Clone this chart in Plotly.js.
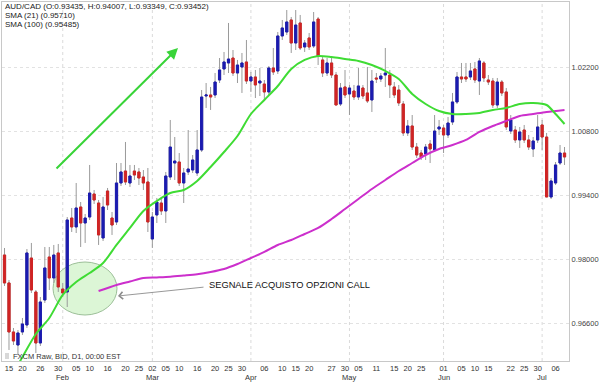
<!DOCTYPE html>
<html>
<head>
<meta charset="utf-8">
<script src="https://cdn.plot.ly/plotly-3.0.1.min.js"></script>
<style>html,body{margin:0;padding:0;background:#fff;}#chart{width:600px;height:382px;}</style>
</head>
<body>
<div id="chart"></div>
<script>
// ---- data (AUD/CAD daily, 14 Jan - 8 Jul 2015) ----
const open = [
0.98094,0.97482,0.96410,0.96125,0.96410,0.96563,0.98028,0.97285,0.96169,0.97110,
0.98050,0.97591,0.98138,0.97350,0.97285,0.98903,0.98707,0.99144,0.98794,0.98925,
0.99428,0.99231,0.98466,0.99494,0.98903,0.98816,0.99669,0.99931,0.99669,0.99931,
0.99910,0.99800,0.99691,0.98444,0.98969,0.99231,0.99057,0.99800,1.00106,1.00128,
0.99669,0.99910,0.99953,0.99888,1.00391,1.01572,1.01594,1.01594,1.01922,1.02163,
1.02294,1.02403,1.02075,1.02206,1.02316,1.01900,1.01988,1.01856,1.01834,1.01660,
1.02185,1.02119,1.02885,1.02972,1.03235,1.02731,1.03169,1.02644,1.02841,1.02666,
1.03256,1.02360,1.02075,1.02294,1.02031,1.01397,1.01769,1.01616,1.01681,1.01550,
1.01747,1.01638,1.01485,1.01966,1.01944,1.02031,1.02031,1.01769,1.01703,1.01397,
1.00763,1.00916,1.00456,1.00325,1.00303,1.00522,1.00391,1.00850,1.00872,1.00719,
1.01003,1.01441,1.01988,1.01988,1.01988,1.02163,1.01900,1.02294,1.01922,1.01900,
1.01375,1.01878,1.01660,1.00806,1.00828,1.00610,1.00828,1.00610,1.00413,1.00610,
1.00938,1.00675,0.99363,0.99669,1.00106,1.00325];
const high = [
0.98247,0.97547,0.96497,0.96453,0.96716,0.98225,0.98357,0.97328,0.97175,0.98269,
0.98269,0.98313,0.98335,0.97482,0.98925,0.99122,0.99669,0.99253,0.98991,1.00063,
0.99516,0.99297,0.99363,0.99560,0.99035,1.00106,1.00106,1.00566,1.00063,1.00063,
0.99997,0.99953,0.99997,0.99035,0.99341,0.99341,0.99910,1.01047,1.00675,1.00325,
0.99997,1.00828,1.00281,1.00828,1.01703,1.01856,1.01769,1.02075,1.02403,1.02535,
1.03169,1.02578,1.02360,1.02513,1.02797,1.02097,1.02141,1.02185,1.01922,1.02228,
1.02622,1.02972,1.03235,1.03453,1.03300,1.03453,1.03344,1.02797,1.02950,1.03409,
1.03300,1.02425,1.02403,1.02403,1.02097,1.01856,1.02141,1.01813,1.01813,1.02185,
1.01813,1.02206,1.02141,1.02075,1.02075,1.02622,1.02141,1.01878,1.01813,1.01463,
1.01047,1.01156,1.00544,1.00391,1.00522,1.00610,1.01156,1.01047,1.00938,1.01113,
1.01638,1.02097,1.02294,1.02294,1.02294,1.02316,1.02403,1.02338,1.02031,1.01966,
1.01966,1.01922,1.01747,1.01156,1.00916,1.00894,1.00938,1.00719,1.00675,1.01156,
1.01047,1.00763,0.99778,1.00128,1.00500,1.00456];
const low = [
0.97416,0.96016,0.96125,0.95906,0.96344,0.96497,0.97263,0.95950,0.96103,0.97044,
0.97328,0.97482,0.97285,0.97175,0.96956,0.98597,0.98575,0.98269,0.98357,0.98860,
0.99210,0.98313,0.98400,0.99078,0.98532,0.98750,0.99603,0.99625,0.99582,0.99735,
0.99625,0.99516,0.98597,0.98247,0.98794,0.98969,0.98794,0.99735,0.99735,0.99603,
0.99231,0.99844,0.99888,0.99822,1.00347,1.01310,1.01266,1.01528,1.01856,1.02031,
1.02075,1.02009,1.01856,1.01638,1.01834,1.01660,1.01528,1.01572,1.01485,1.01594,
1.02031,1.02053,1.02797,1.02906,1.02513,1.02578,1.02578,1.02535,1.02578,1.02622,
1.02250,1.01988,1.02009,1.01966,1.01375,1.01353,1.01528,1.01156,1.01485,1.01485,
1.01506,1.01419,1.01222,1.01856,1.01878,1.01769,1.01528,1.01528,1.01353,1.00697,
1.00697,1.00391,1.00216,1.00172,1.00172,1.00106,1.00347,1.00719,1.00325,1.00653,
1.00938,1.01397,1.01856,1.01878,1.01922,1.01856,1.01594,1.01878,1.01813,1.01310,
1.01310,1.01572,1.00828,1.00741,1.00544,1.00435,1.00544,1.00391,1.00238,1.00544,
1.00391,0.99363,0.99319,0.99625,1.00063,1.00063];
const close = [
0.97482,0.96410,0.96213,0.96388,0.96585,0.98138,0.97328,0.96169,0.97066,0.97810,
0.97591,0.98094,0.97394,0.97263,0.98860,0.98707,0.99122,0.98794,0.98903,0.99450,
0.99297,0.98532,0.99144,0.99188,0.98750,0.99669,0.99910,0.99691,0.99822,0.99844,
0.99778,0.99669,0.98816,0.98925,0.99253,0.99057,0.99822,1.00456,1.00150,0.99669,
0.99888,0.99975,1.00172,1.00391,1.01550,1.01594,1.01550,1.01878,1.02141,1.02316,
1.02381,1.02075,1.02250,1.02294,1.01900,1.01988,1.01813,1.01900,1.01660,1.02185,
1.02097,1.02885,1.03060,1.03191,1.02731,1.03125,1.02622,1.02731,1.02644,1.03191,
1.02447,1.02075,1.02294,1.02031,1.01375,1.01747,1.01594,1.01747,1.01550,1.01791,
1.01572,1.01463,1.01900,1.01944,1.02009,1.02075,1.01813,1.01594,1.01419,1.00763,
1.00916,1.00456,1.00281,1.00238,1.00456,1.00413,1.00806,1.00894,1.00719,1.00981,
1.01441,1.01988,1.01944,1.01944,1.02119,1.01922,1.02338,1.01966,1.01878,1.01375,
1.01878,1.01638,1.00894,1.01047,1.00610,1.00785,1.00610,1.00456,1.00588,1.00894,
1.00675,0.99363,0.99713,1.00063,1.00325,1.00238];

// SMA(21): index of trading day, value
const sma21Idx = [3,4,7,10,13,16,19,22,25,28,31,34,37,40,43,46,49,52,55,58,61,64,67,70,73,76,79,82,85,88,91,94,97,100,103,106,109,112,115,118,121,123,125];
const sma21Val = [0.95688,0.95863,0.96366,0.96716,0.97219,0.97503,0.97700,0.97919,0.98313,0.98685,0.99057,0.99275,0.99450,0.99516,0.99713,1.00019,1.00347,1.00697,1.01178,1.01485,1.01791,1.02163,1.02360,1.02447,1.02425,1.02381,1.02338,1.02250,1.02119,1.01944,1.01616,1.01397,1.01244,1.01178,1.01178,1.01200,1.01266,1.01310,1.01397,1.01419,1.01375,1.01178,1.00960];
// SMA(100)
const sma100Idx = [21,25,28,31,34,37,40,43,46,49,52,55,58,61,64,67,70,73,76,79,82,85,88,91,94,97,100,103,106,109,112,115,118,121,125];
const sma100Val = [0.97306,0.97438,0.97514,0.97591,0.97604,0.97619,0.97645,0.97674,0.97722,0.97788,0.97897,0.98028,0.98160,0.98313,0.98422,0.98553,0.98685,0.98881,0.99100,0.99319,0.99538,0.99735,0.99931,1.00106,1.00281,1.00413,1.00500,1.00610,1.00785,1.00916,1.01025,1.01135,1.01178,1.01222,1.01266];

const tickDates = ['2015-01-15','2015-01-20','2015-01-26','2015-01-30','2015-02-05','2015-02-10','2015-02-16','2015-02-20','2015-02-25',
 '2015-03-02','2015-03-05','2015-03-10','2015-03-16','2015-03-20','2015-03-25','2015-03-30','2015-04-06','2015-04-10','2015-04-15',
 '2015-04-20','2015-04-27','2015-04-30','2015-05-05','2015-05-11','2015-05-15','2015-05-20','2015-05-25','2015-06-01','2015-06-05',
 '2015-06-10','2015-06-15','2015-06-22','2015-06-25','2015-06-30','2015-07-06'];
const tickLabels = ['15','20','26','30','05','10','16','20','25','02','05','10','16','20','25','30','06','10','15','20','27','30','05','11','15','20','25','01','05','10','15','22','25','30','06'];
const monthDates = ['2015-02-02','2015-03-02','2015-04-01','2015-05-01','2015-06-01','2015-07-01'];
const monthNames = ['Feb','Mar','Apr','May','Jun','Jul'];
const priceTicks = [0.966,0.980,0.994,1.008,1.022];

const headerLines = ['AUD/CAD (O:0.93435, H:0.94007, L:0.93349, C:0.93452)','SMA (21) (0.95710)','SMA (100) (0.95485)'];
const footerText = 'FXCM Raw, BID, D1, 00:00 EST';
const signalText = 'SEGNALE ACQUISTO OPZIONI CALL';

// ---- build ----
function tradingDays(y, m, d, n) {
  const out = []; let t = Date.UTC(y, m - 1, d);
  while (out.length < n) { const dt = new Date(t); const wd = dt.getUTCDay(); if (wd > 0 && wd < 6) out.push(dt.toISOString().slice(0, 10)); t += 86400000; }
  return out;
}
const days = tradingDays(2015, 1, 14, open.length);

const BLUE = '#1b1bb0', RED = '#d02424', WICK = '#9a9a9a';
const bodyHi = open.map((o, i) => Math.max(o, close[i]));
const bodyLo = open.map((o, i) => Math.min(o, close[i]));

const traces = [
  { type: 'candlestick', x: days, open: open, high: high, low: low, close: close,
    increasing: { line: { color: WICK, width: 1 }, fillcolor: WICK },
    decreasing: { line: { color: WICK, width: 1 }, fillcolor: WICK },
    whiskerwidth: 0, hoverinfo: 'skip' },
  { type: 'candlestick', x: days, open: open, high: bodyHi, low: bodyLo, close: close,
    increasing: { line: { color: BLUE, width: 1 }, fillcolor: BLUE },
    decreasing: { line: { color: RED, width: 1 }, fillcolor: RED },
    whiskerwidth: 0, hoverinfo: 'skip' },
  { type: 'scatter', mode: 'lines', x: sma100Idx.map(i => days[i]), y: sma100Val,
    line: { color: '#cc2fcc', width: 2, shape: 'spline', smoothing: 0.8 }, hoverinfo: 'skip' },
  { type: 'scatter', mode: 'lines', x: sma21Idx.map(i => days[i]), y: sma21Val,
    line: { color: '#3fdc34', width: 2, shape: 'spline', smoothing: 0.8 }, hoverinfo: 'skip' }
];

const W = 567, H = 359; // plot area px
const px = (x) => (x - 2) / W;
const py = (y) => 1 - (y - 2) / H;

const annotations = [];
headerLines.forEach((t, i) => annotations.push({ xref: 'paper', yref: 'paper', x: 0, y: 1, xanchor: 'left', yanchor: 'middle',
  xshift: 1, yshift: -4 - i * 9, text: t, showarrow: false, font: { size: 8, color: '#222' } }));
annotations.push({ xref: 'paper', yref: 'paper', x: 0, y: 0, xanchor: 'left', yanchor: 'middle', xshift: 9, yshift: 5,
  text: footerText, showarrow: false, font: { size: 7.5, color: '#333' } });
monthDates.forEach((d, i) => annotations.push({ xref: 'x', yref: 'paper', x: days.indexOf(d), y: 0, xanchor: 'center', yanchor: 'middle',
  yshift: -16.5, text: monthNames[i], showarrow: false, font: { size: 7.5, color: '#333' } }));
annotations.push({ xref: 'paper', yref: 'paper', x: px(207), y: py(285), xanchor: 'left', yanchor: 'middle',
  text: signalText, showarrow: false, font: { size: 9.3, color: '#111' } });
annotations.push({ xref: 'paper', yref: 'paper', x: px(178), y: py(48), text: '', showarrow: true, arrowhead: 2, arrowsize: 1.1,
  arrowwidth: 2, arrowcolor: '#38d438', ax: -123, ay: 122, standoff: 0 });
annotations.push({ xref: 'paper', yref: 'paper', x: px(118), y: py(296), text: '', showarrow: true, arrowhead: 4, arrowsize: 1.6,
  arrowwidth: 0.9, arrowcolor: '#8c8c8c', ax: 87, ay: -9, standoff: 0 });

const shapes = monthDates.map(d => ({ type: 'line', xref: 'x', yref: 'paper', x0: days.indexOf(d), x1: days.indexOf(d), y0: 0, y1: 1,
  line: { color: '#dadada', width: 1, dash: 'dot' }, layer: 'below' }));
shapes.push({ type: 'circle', xref: 'paper', yref: 'paper', x0: px(53), x1: px(117), y0: py(315), y1: py(262),
  fillcolor: '#dcf6d6', line: { color: '#9cbf98', width: 1 }, layer: 'below' });
shapes.push({ type: 'rect', xref: 'paper', yref: 'paper', x0: px(5), x1: px(9), y0: py(359), y1: py(353),
  fillcolor: '#d8d8d8', line: { width: 0 } });

const layout = {
  width: 600, height: 382, margin: { l: 2, r: 31, t: 2, b: 21 },
  paper_bgcolor: '#fff', plot_bgcolor: '#fff', showlegend: false,
  font: { family: 'Liberation Sans, Arial, sans-serif', size: 8, color: '#333' },
  xaxis: { type: 'category', range: [-0.56, 126], rangeslider: { visible: false }, tickmode: 'array',
    tickvals: tickDates, ticktext: tickLabels, tickangle: 0, tickfont: { size: 7.5, color: '#333' },
    showgrid: false, showline: true, mirror: true, linecolor: '#c8c8c8', ticks: '', fixedrange: true, automargin: false },
  yaxis: { side: 'right', range: [0.95775, 1.03628], tickmode: 'array', tickvals: priceTicks,
    ticktext: priceTicks.map(v => v.toFixed(5)), tickfont: { size: 7.5, color: '#444' },
    showgrid: true, gridcolor: '#e2e2e2', griddash: 'dot', showline: true, mirror: true, linecolor: '#c8c8c8',
    zeroline: false, ticks: '', automargin: false, fixedrange: true },
  annotations: annotations, shapes: shapes
};

Plotly.newPlot('chart', traces, layout, { staticPlot: true, displayModeBar: false });
</script>
</body>
</html>
